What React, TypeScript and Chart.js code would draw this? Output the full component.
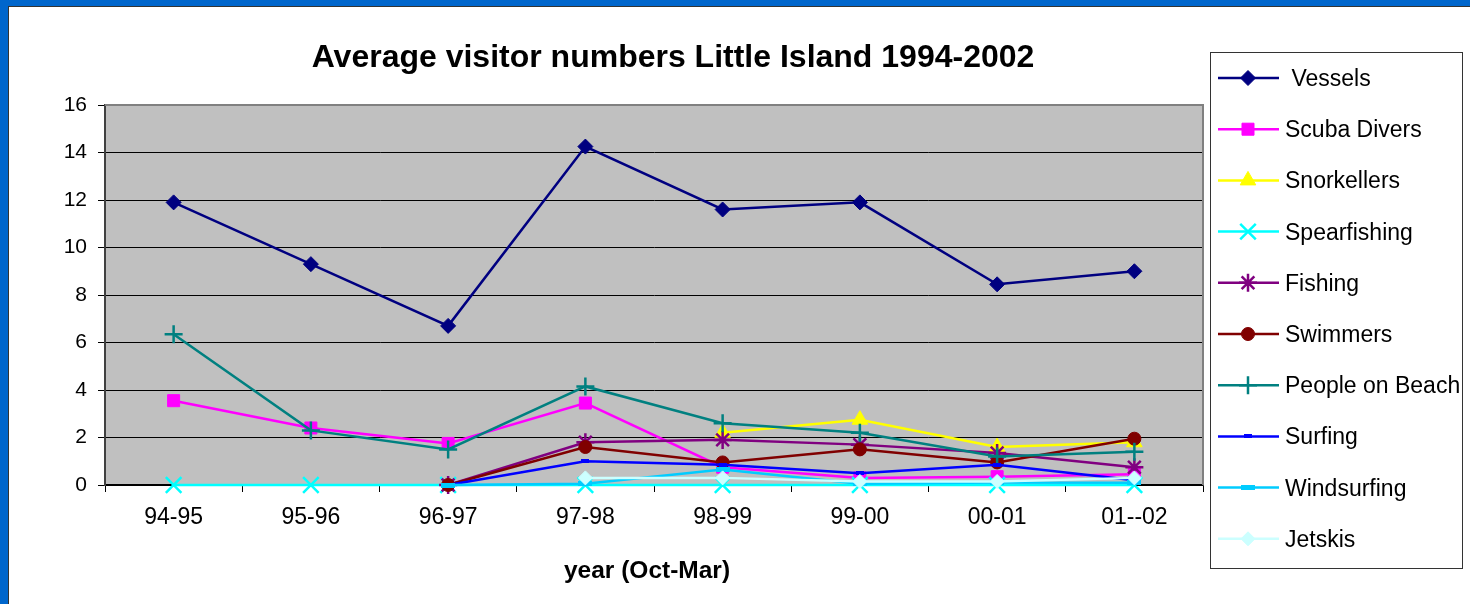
import React, { useEffect, useRef } from 'react';
import { Chart, registerables } from 'chart.js';
import { drawPoint } from 'chart.js/helpers';

Chart.register(...registerables);

const categories = ['94-95', '95-96', '96-97', '97-98', '98-99', '99-00', '00-01', '01--02'];
const yMin = 0;
const yMax = 16;
const yStep = 2;

const chartTitle = 'Average visitor numbers Little Island 1994-2002';
const xAxisTitle = 'year (Oct-Mar)';

const seriesNames = [
  ' Vessels',
  'Scuba Divers',
  'Snorkellers',
  'Spearfishing',
  'Fishing',
  'Swimmers',
  'People on Beach',
  'Surfing',
  'Windsurfing',
  'Jetskis',
];

const vessels = [11.9, 9.3, 6.7, 14.25, 11.6, 11.9, 8.45, 9.0];
const scubaDivers = [3.55, 2.4, 1.75, 3.45, 0.75, 0.3, 0.35, 0.45];
const snorkellers = [null, null, null, null, 2.2, 2.75, 1.6, 1.8];
const spearfishing = [0, 0, 0, 0, 0, 0, 0, 0];
const fishing = [null, null, 0, 1.8, 1.9, 1.7, 1.35, 0.75];
const swimmers = [null, null, 0, 1.6, 0.95, 1.5, 0.95, 1.95];
const peopleOnBeach = [6.35, 2.3, 1.5, 4.15, 2.6, 2.2, 1.2, 1.4];
const surfing = [null, null, 0, 1.0, 0.85, 0.5, 0.85, 0.2];
const windsurfing = [null, null, 0, 0.05, 0.65, 0.05, 0.1, 0.1];
const jetskis = [null, null, null, 0.3, 0.3, 0.15, 0.15, 0.3];

const seriesValues = [
  vessels,
  scubaDivers,
  snorkellers,
  spearfishing,
  fishing,
  swimmers,
  peopleOnBeach,
  surfing,
  windsurfing,
  jetskis,
];

const FONT = '"Liberation Sans", Arial, sans-serif';

type Style = { color: string; point: string; radius: number; bw: number; dash?: [number, number] };
const styles: Style[] = [
  { color: '#000080', point: 'rectRot', radius: 7.5, bw: 1 },
  { color: '#FF00FF', point: 'rect', radius: 8.5, bw: 1 },
  { color: '#FFFF00', point: 'triangle', radius: 9, bw: 1 },
  { color: '#00FFFF', point: 'crossRot', radius: 11, bw: 2.5 },
  { color: '#800080', point: 'star', radius: 9, bw: 2.5 },
  { color: '#800000', point: 'circle', radius: 6.5, bw: 1 },
  { color: '#008080', point: 'cross', radius: 9, bw: 2.5 },
  { color: '#0000FF', point: 'dash', radius: 5, bw: 1, dash: [8, 4] },
  { color: '#00CCFF', point: 'dash', radius: 5, bw: 1, dash: [14, 5] },
  { color: '#CCFFFF', point: 'rectRot', radius: 7, bw: 1 },
];

function makeDash(color: string, w: number, h: number) {
  const c = document.createElement('canvas');
  c.width = w;
  c.height = h;
  const g = c.getContext('2d')!;
  g.fillStyle = color;
  g.fillRect(0, 0, w, h);
  return c;
}

const framePlugin = {
  id: 'frame',
  beforeDraw(chart: any) {
    const { ctx, chartArea: a, width, height } = chart;
    ctx.save();
    ctx.fillStyle = '#FFFFFF';
    ctx.fillRect(0, 0, width, height);
    ctx.fillStyle = '#0066CC';
    ctx.fillRect(0, 0, width, 7);
    ctx.fillRect(0, 0, 8, height);
    ctx.fillStyle = '#333333';
    ctx.fillRect(8, 6, width - 8, 1);
    ctx.fillRect(8, 6, 1, height - 6);
    ctx.fillStyle = '#C0C0C0';
    ctx.fillRect(a.left, a.top, a.right - a.left, a.bottom - a.top);
    ctx.restore();
  },
  beforeDatasetsDraw(chart: any) {
    const { ctx, chartArea: a } = chart;
    ctx.save();
    ctx.strokeStyle = '#808080';
    ctx.lineWidth = 2;
    ctx.beginPath();
    ctx.moveTo(a.left, a.top);
    ctx.lineTo(a.right, a.top);
    ctx.lineTo(a.right, a.bottom);
    ctx.stroke();
    ctx.restore();
  },
  afterDraw(chart: any) {
    const { ctx } = chart;
    ctx.save();
    ctx.fillStyle = '#000';
    ctx.textAlign = 'center';
    ctx.textBaseline = 'alphabetic';
    ctx.font = `bold 32px ${FONT}`;
    ctx.fillText(chartTitle, 673, 67);
    ctx.font = `bold 24.5px ${FONT}`;
    ctx.fillText(xAxisTitle, 647, 578);

    // legend
    const bx = 1210, by = 52, bw = 252, bh = 516;
    ctx.strokeStyle = '#333';
    ctx.lineWidth = 1;
    ctx.strokeRect(bx + 0.5, by + 0.5, bw, bh);
    ctx.textAlign = 'left';
    ctx.font = `23px ${FONT}`;
    chart.data.datasets.forEach((ds: any, i: number) => {
      const y = 78 + i * 51.2;
      ctx.strokeStyle = ds.borderColor;
      ctx.lineWidth = 2.5;
      ctx.beginPath();
      ctx.moveTo(1218, y);
      ctx.lineTo(1279, y);
      ctx.stroke();
      ctx.fillStyle = ds.pointBackgroundColor;
      ctx.strokeStyle = ds.pointBorderColor;
      ctx.lineWidth = ds.pointBorderWidth;
      drawPoint(ctx, { pointStyle: ds.pointStyle, radius: ds.pointRadius, rotation: 0, borderWidth: ds.pointBorderWidth }, 1248, y);
      ctx.fillStyle = '#000';
      ctx.fillText(ds.label, 1285, y + 8);
    });
    ctx.restore();
  },
};

export default function App() {
  const ref = useRef<HTMLCanvasElement>(null);
  useEffect(() => {
    if (!ref.current) return;
    const datasets = seriesNames.map((name, i) => {
      const s = styles[i];
      const ps = s.dash ? makeDash(s.color, s.dash[0], s.dash[1]) : s.point;
      return {
        label: name,
        data: seriesValues[i],
        borderColor: s.color,
        backgroundColor: s.color,
        borderWidth: 2.5,
        pointStyle: ps,
        pointRadius: s.radius,
        pointBackgroundColor: s.color,
        pointBorderColor: s.color,
        pointBorderWidth: s.bw,
        tension: 0,
        spanGaps: false,
        clip: false,
        order: seriesNames.length - i,
      };
    });
    const chart = new Chart(ref.current, {
      type: 'line',
      data: { labels: categories, datasets: datasets as any },
      options: {
        animation: false,
        responsive: false,
        devicePixelRatio: 1,
        layout: { padding: { left: 8, right: 267, top: 105, bottom: 0 } },
        plugins: { legend: { display: false }, title: { display: false }, tooltip: { enabled: false } },
        scales: {
          x: {
            type: 'category',
            offset: true,
            afterFit: (scale: any) => {
              scale.height = 119;
            },
            grid: { offset: true, drawOnChartArea: false, drawTicks: true, tickLength: 7, color: '#000', lineWidth: 1 },
            border: { color: '#000', width: 1.5 },
            ticks: { color: '#000', font: { family: FONT, size: 23 }, padding: 12, maxRotation: 0, autoSkip: false },
          },
          y: {
            min: yMin,
            max: yMax,
            afterFit: (scale: any) => {
              scale.width = 97;
            },
            grid: { color: '#000', lineWidth: 1, drawTicks: true, tickLength: 7, tickColor: '#000' },
            border: { color: '#404040', width: 2 },
            ticks: { stepSize: yStep, color: '#000', font: { family: FONT, size: 21 }, padding: 11 },
          },
        },
      },
      plugins: [framePlugin],
    });
    return () => chart.destroy();
  }, []);
  return (
    <div style={{ position: 'fixed', left: 0, top: 0, width: 1470, height: 604 }}>
      <canvas ref={ref} width={1470} height={604} style={{ width: 1470, height: 604, display: 'block' }} />
    </div>
  );
}
